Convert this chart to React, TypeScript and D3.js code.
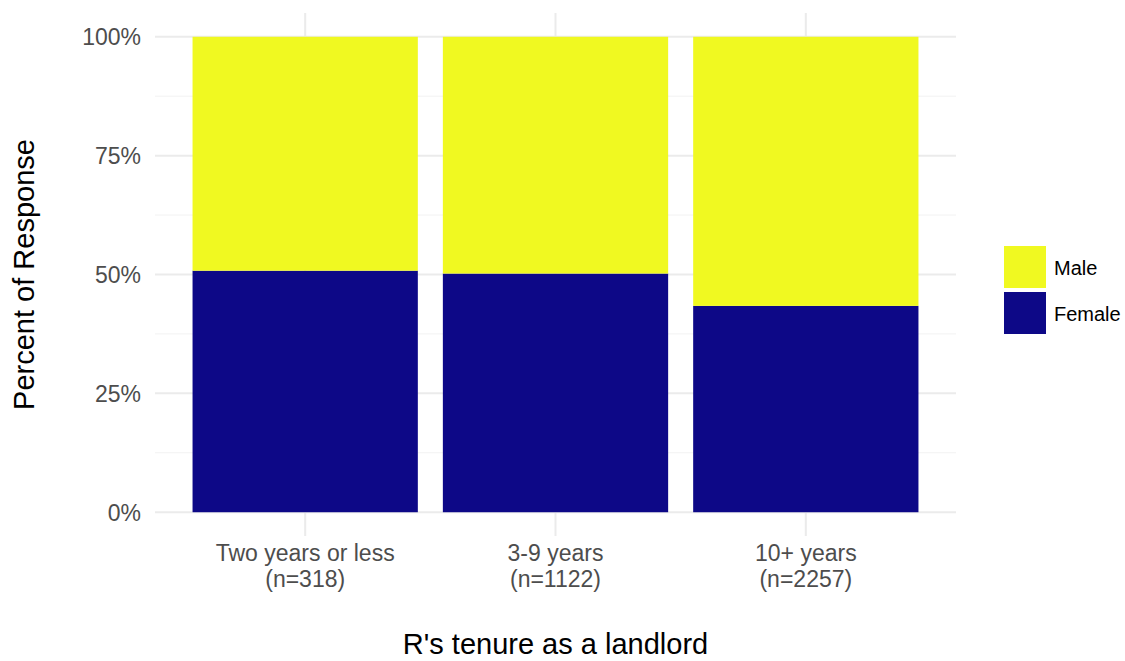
import React from 'react';
import * as d3 from 'd3';

const categories = ['Two years or less', '3-9 years', '10+ years'];
const counts = ['(n=318)', '(n=1122)', '(n=2257)'];
const femaleShare = [0.508, 0.502, 0.434];
const maleShare = [0.492, 0.498, 0.566];
const yTicks = [0, 0.25, 0.5, 0.75, 1];
const yMinor = [0.125, 0.375, 0.625, 0.875];
const seriesNames = ['Male', 'Female'];
const seriesColors = ['#F0F921', '#0D0887'];

const width = 1125;
const height = 661;
const panel = { left: 155, right: 956, top: 13, bottom: 536 };

const App: React.FC = () => {
  // ggplot-style discrete axis: 0.6 unit padding either side
  const x = d3
    .scalePoint<string>()
    .domain(categories)
    .range([panel.left, panel.right])
    .padding(0.6);
  const step = x.step();
  const barW = step * 0.9;

  const y = d3
    .scaleLinear()
    .domain([-0.05, 1.05])
    .range([panel.bottom, panel.top]);

  const fmt = d3.format('.0%');

  const stacked = categories.map((c, i) => ({
    cat: c,
    female: femaleShare[i],
    male: maleShare[i],
  }));

  return (
    <svg
      width={width}
      height={height}
      style={{ position: 'absolute', left: 0, top: 0, background: '#fff' }}
      fontFamily="'Liberation Sans', Arial, sans-serif"
    >
      {/* minor grid */}
      {yMinor.map((t) => (
        <line
          key={'mn' + t}
          x1={panel.left}
          x2={panel.right}
          y1={y(t)}
          y2={y(t)}
          stroke="#f2f2f2"
          strokeWidth={1}
        />
      ))}
      {/* major grid */}
      {yTicks.map((t) => (
        <line
          key={'mj' + t}
          x1={panel.left}
          x2={panel.right}
          y1={y(t)}
          y2={y(t)}
          stroke="#ebebeb"
          strokeWidth={2}
        />
      ))}
      {categories.map((c) => (
        <line
          key={'vg' + c}
          x1={x(c)}
          x2={x(c)}
          y1={panel.top}
          y2={panel.bottom}
          stroke="#ebebeb"
          strokeWidth={2}
        />
      ))}

      {/* bars */}
      {stacked.map((d) => {
        const x0 = (x(d.cat) as number) - barW / 2;
        return (
          <g key={d.cat}>
            <rect
              x={x0}
              width={barW}
              y={y(d.female)}
              height={y(0) - y(d.female)}
              fill={seriesColors[1]}
            />
            <rect
              x={x0}
              width={barW}
              y={y(1)}
              height={y(d.female) - y(1)}
              fill={seriesColors[0]}
            />
          </g>
        );
      })}

      {/* y axis labels */}
      {yTicks.map((t) => (
        <text
          key={'yl' + t}
          x={141}
          y={y(t)}
          dy="0.36em"
          textAnchor="end"
          fontSize={23}
          fill="#4d4d4d"
        >
          {fmt(t)}
        </text>
      ))}

      {/* x axis labels */}
      {categories.map((c, i) => (
        <text key={'xl' + c} textAnchor="middle" fontSize={23} fill="#4d4d4d">
          <tspan x={x(c)} y={561}>
            {c}
          </tspan>
          <tspan x={x(c)} y={587}>
            {counts[i]}
          </tspan>
        </text>
      ))}

      {/* axis titles */}
      <text
        x={(panel.left + panel.right) / 2}
        y={654}
        textAnchor="middle"
        fontSize={29}
        fill="#000"
      >
        R's tenure as a landlord
      </text>
      <text
        transform={`translate(34,${(y(0) + y(1)) / 2}) rotate(-90)`}
        textAnchor="middle"
        fontSize={29}
        fill="#000"
      >
        Percent of Response
      </text>

      {/* legend */}
      {seriesNames.map((s, i) => (
        <g key={s} transform={`translate(1004,${246 + i * 46})`}>
          <rect width={42} height={42} fill={seriesColors[i]} />
          <text x={50} y={22} dy="0.36em" fontSize={20} fill="#000">
            {s}
          </text>
        </g>
      ))}
    </svg>
  );
};

export default App;
